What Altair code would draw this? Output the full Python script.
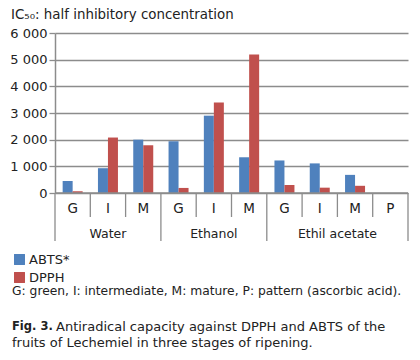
import altair as alt
import pandas as pd

# ---- data ----
groups = ["Water", "Water", "Water", "Ethanol", "Ethanol", "Ethanol",
          "Ethil acetate", "Ethil acetate", "Ethil acetate", "Ethil acetate"]
stages = ["G", "I", "M", "G", "I", "M", "G", "I", "M", "P"]
abts = [450, 930, 2000, 1940, 2900, 1340, 1220, 1110, 680, None]
dpph = [65, 2080, 1790, 190, 3390, 5190, 300, 200, 270, None]
series_names = ["ABTS*", "DPPH"]
y_ticks = [0, 1000, 2000, 3000, 4000, 5000, 6000]
group_names = ["Water", "Ethanol", "Ethil acetate"]

title_text = "IC\u2085\u2080: half inhibitory concentration"
note_text = "G: green, I: intermediate, M: mature, P: pattern (ascorbic acid)."
fig_label = "Fig. 3."
caption_1 = "Antiradical capacity against DPPH and ABTS of the"
caption_2 = "fruits of Lechemiel in three stages of ripening."

FONT = "DejaVu Sans"
W, H = 353, 160

keys = [f"{g}|{s}" for g, s in zip(groups, stages)]
rows = []
for k, g, s, a, d in zip(keys, groups, stages, abts, dpph):
    if a is not None:
        rows.append({"key": k, "series": series_names[0], "value": a})
    if d is not None:
        rows.append({"key": k, "series": series_names[1], "value": d})
bars_df = pd.DataFrame(rows)
cat_df = pd.DataFrame({"key": keys, "stage": stages})

# boundaries
n = len(keys)
group_edges = [0]
for i in range(1, n):
    if groups[i] != groups[i - 1]:
        group_edges.append(i)
group_edges.append(n)
short_edges = [i for i in range(n + 1) if i not in group_edges]
long_df = pd.DataFrame({"pos": group_edges})
short_df = pd.DataFrame({"pos": short_edges})
glab_df = pd.DataFrame({
    "pos": [(group_edges[i] + group_edges[i + 1]) / 2 for i in range(len(group_edges) - 1)],
    "name": group_names,
})

xq = alt.Scale(domain=[0, n], nice=False, zero=False)
xband = alt.Scale(domain=keys, paddingInner=0, paddingOuter=0)

bars = alt.Chart(bars_df).mark_bar().encode(
    x=alt.X("key:N", sort=keys, axis=None, scale=xband),
    xOffset=alt.XOffset("series:N", sort=series_names,
                        scale=alt.Scale(paddingInner=0, paddingOuter=0.765)),
    y=alt.Y("value:Q", scale=alt.Scale(domain=[0, 6000], nice=False),
            axis=alt.Axis(values=y_ticks, title=None, grid=True,
                          gridColor="#8c8c8c", gridWidth=1.3,
                          domainColor="#8c8c8c", domainWidth=1.5,
                          tickColor="#8c8c8c", tickSize=6, tickWidth=1.3,
                          labelFontSize=13, labelFont=FONT, labelColor="#222",
                          labelPadding=2,
                          labelExpr="replace(format(datum.value, ','), ',', ' ')")),
    color=alt.Color("series:N", sort=series_names,
                    scale=alt.Scale(domain=series_names, range=["#4f81bd", "#c0504d"]),
                    legend=alt.Legend(title=None, orient="none", legendX=-42, legendY=220,
                                      symbolType="square", symbolSize=120,
                                      symbolStrokeWidth=0, labelFont=FONT,
                                      labelFontSize=13, labelColor="#222",
                                      rowPadding=4, labelOffset=3)),
)

base_line = alt.Chart(pd.DataFrame({"pos": [0, n]})).mark_rule(
    color="#8c8c8c", strokeWidth=1.5).encode(
    x=alt.X("pos:Q", scale=xq, axis=None, aggregate="min"),
    x2=alt.X2("pos", aggregate="max"),
    y=alt.value(H))

short_rules = alt.Chart(short_df).mark_rule(color="#8c8c8c", strokeWidth=1.3).encode(
    x=alt.X("pos:Q", scale=xq, axis=None), y=alt.value(H), y2=alt.value(H + 24))
long_rules = alt.Chart(long_df).mark_rule(color="#8c8c8c", strokeWidth=1.3).encode(
    x=alt.X("pos:Q", scale=xq, axis=None), y=alt.value(H), y2=alt.value(H + 48))

stage_text = alt.Chart(cat_df).mark_text(
    font=FONT, fontSize=13.5, color="#222", baseline="middle").encode(
    x=alt.X("key:N", sort=keys, axis=None, scale=xband),
    y=alt.value(H + 16), text="stage:N")

group_text = alt.Chart(glab_df).mark_text(
    font=FONT, fontSize=12.5, color="#222", baseline="middle").encode(
    x=alt.X("pos:Q", scale=xq, axis=None), y=alt.value(H + 41), text="name:N")

def note(txt, x, y, size, weight="normal"):
    return alt.Chart(pd.DataFrame({"t": [txt]})).mark_text(
        font=FONT, fontSize=size, color="#222", align="left", baseline="middle",
        fontWeight=weight).encode(x=alt.value(x), y=alt.value(y), text="t:N")

chart = alt.layer(
    bars, base_line, short_rules, long_rules, stage_text, group_text,
    note(title_text, -44, -18, 13.4),
    note(note_text, -43, 258, 12.3),
    note(fig_label, -43, 294, 11.5, "bold"),
    note(caption_1, 1, 294, 13.0),
    note(caption_2, -43, 310, 13.0),
).resolve_scale(x="independent").properties(
    width=W, height=H,
    autosize=alt.AutoSizeParams(type="none"),
    padding={"left": 47, "top": 25, "right": 4, "bottom": 160},
).configure_view(stroke=None)

chart.save("out.html", embed_options={"renderer": "svg", "actions": False})
